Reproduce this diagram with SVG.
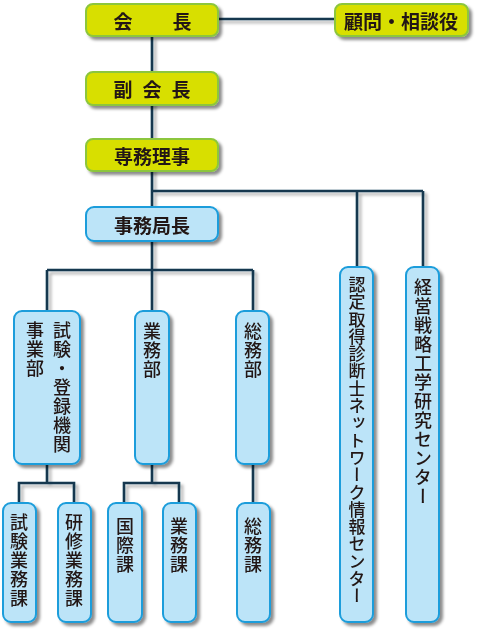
<svg xmlns="http://www.w3.org/2000/svg" width="480" height="635" viewBox="0 0 480 635">
<defs>
<filter id="sh" x="-20%" y="-20%" width="150%" height="150%">
<feDropShadow dx="3" dy="3" stdDeviation="1.8" flood-color="#000" flood-opacity="0.45"/>
</filter>
<filter id="lsh" x="-20%" y="-20%" width="150%" height="150%">
<feDropShadow dx="3" dy="3" stdDeviation="1.5" flood-color="#000" flood-opacity="0.3"/>
</filter>
</defs>
<style>
.c{fill:none;stroke:#12374f;stroke-width:2.6}
.y{fill:#d8df00;stroke:#8cc63e;stroke-width:2}
.b{fill:#bce4f8;stroke:#1b9ddb;stroke-width:2}
.t{font-family:"Noto Sans CJK JP","Noto Sans",sans-serif;font-weight:700;font-size:19px;fill:#231815;text-anchor:middle;dominant-baseline:central}
.v{font-family:"Noto Sans CJK JP","Noto Sans",sans-serif;font-weight:500;font-size:18px;fill:#231815;writing-mode:vertical-rl;letter-spacing:1px}
</style>
<rect width="480" height="635" fill="#fff"/>
<g id="connectors" filter="url(#lsh)">
<path class="c" d="M218,19H335"/>
<path class="c" d="M152,37V311"/>
<path class="c" d="M152,191H423M357,191V267M423,191V267"/>
<path class="c" d="M47,270H253M47,270V311M253,270V311"/>
<path class="c" d="M47,464V483M19,503V483H74V503"/>
<path class="c" d="M152,464V483M124,503V483H179V503"/>
<path class="c" d="M253,464V503"/>
</g>
<g id="kaicho" filter="url(#sh)"><rect class="y" x="86" y="4" width="132" height="32" rx="7"/><text class="t" y="20"><tspan x="123">会</tspan><tspan x="182">長</tspan></text></g>
<g id="komon" filter="url(#sh)"><rect class="y" x="335" y="4" width="133" height="32" rx="7"/><text class="t" x="401" y="20">顧問・相談役</text></g>
<g id="fukukaicho" filter="url(#sh)"><rect class="y" x="86" y="72" width="132" height="33" rx="7"/><text class="t" x="157" y="88" style="letter-spacing:10px">副会長</text></g>
<g id="senmu" filter="url(#sh)"><rect class="y" x="86" y="139" width="132" height="32" rx="7"/><text class="t" x="152" y="155">専務理事</text></g>
<g id="jimukyokucho" filter="url(#sh)"><rect class="b" x="86" y="207" width="132" height="34" rx="8"/><text class="t" x="152" y="224">事務局長</text></g>
<g id="shiken-bu" filter="url(#sh)"><rect class="b" x="14" y="311" width="66" height="153" rx="8"/><text class="v" x="35" y="321">事業部</text><text class="v" x="62" y="321">試験・登録機関</text></g>
<g id="gyomu-bu" filter="url(#sh)"><rect class="b" x="135" y="311" width="34" height="153" rx="8"/><text class="v" x="152" y="322">業務部</text></g>
<g id="somu-bu" filter="url(#sh)"><rect class="b" x="236" y="311" width="33" height="153" rx="8"/><text class="v" x="253" y="322">総務部</text></g>
<g id="network" filter="url(#sh)"><rect class="b" x="340" y="267" width="33" height="355" rx="8"/><text class="v" x="357" y="276" style="font-size:17px;letter-spacing:0.3px">認定取得診断士ネットワーク情報センター</text></g>
<g id="keiei" filter="url(#sh)"><rect class="b" x="406" y="267" width="33" height="355" rx="8"/><text class="v" x="423" y="278">経営戦略工学研究センター</text></g>
<g id="shiken-ka" filter="url(#sh)"><rect class="b" x="3" y="503" width="33" height="119" rx="8"/><text class="v" x="19" y="513">試験業務課</text></g>
<g id="kenshu-ka" filter="url(#sh)"><rect class="b" x="58" y="503" width="33" height="119" rx="8"/><text class="v" x="74" y="513">研修業務課</text></g>
<g id="kokusai-ka" filter="url(#sh)"><rect class="b" x="108" y="503" width="34" height="119" rx="8"/><text class="v" x="125" y="517">国際課</text></g>
<g id="gyomu-ka" filter="url(#sh)"><rect class="b" x="163" y="503" width="33" height="119" rx="8"/><text class="v" x="179" y="517">業務課</text></g>
<g id="somu-ka" filter="url(#sh)"><rect class="b" x="237" y="503" width="33" height="119" rx="8"/><text class="v" x="253" y="517">総務課</text></g>
</svg>
